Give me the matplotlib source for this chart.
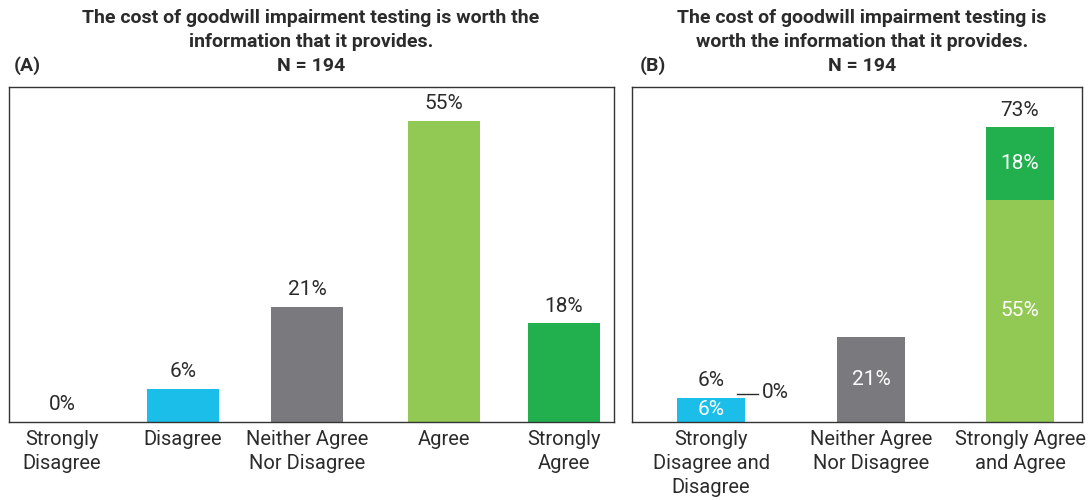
import numpy as np
import matplotlib.pyplot as plt

plt.rcParams['font.family'] = ['Roboto', 'DejaVu Sans']

# Panel A data
cats_a = ['Strongly\nDisagree', 'Disagree', 'Neither Agree\nNor Disagree', 'Agree', 'Strongly\nAgree']
vals_a = [0, 6, 21, 55, 18]

# Panel B data
cats_b = ['Strongly\nDisagree and\nDisagree', 'Neither Agree\nNor Disagree', 'Strongly Agree\nand Agree']
lower_b = [6, 21, 55]    # Disagree / Neither / Agree
upper_b = [0, 0, 18]     # Strongly Disagree / - / Strongly Agree
totals_b = [6, 21, 73]
show_total_b = [True, False, True]

blue = '#1bbde9'
gray = '#7a797e'
lgreen = '#92c954'
dgreen = '#22b04f'
txt = '#2b2b2b'

W, H = 1092, 500
fig = plt.figure(figsize=(W / 100, H / 100), dpi=100)

def px_axes(x0, y0, x1, y1):
    return fig.add_axes([x0 / W, 1 - y1 / H, (x1 - x0) / W, (y1 - y0) / H])

fs_tick = 14.5
fs_val = 15
fs_title = 14

# ---- Panel A ----
ax = px_axes(9, 87, 614, 422)
# bar centres (slightly uneven spacing, as in the original layout)
x = np.array([62, 183, 307, 444, 564]) / 125.5
ax.bar(x, vals_a, width=0.575, color=[blue, blue, gray, lgreen, dgreen])
for xi, v in zip(x, vals_a):
    ax.text(xi, v + 1.4, f'{v}%', ha='center', va='bottom', fontsize=fs_val, color=txt)
ax.set_xlim(9 / 125.5, 614 / 125.5)
ax.set_ylim(0, 61.2)
ax.set_xticks(x)
ax.set_xticklabels(cats_a, fontsize=fs_tick, color=txt, linespacing=1.32)
ax.set_yticks([])
ax.tick_params(axis='x', length=0, pad=6)
for s in ax.spines.values():
    s.set_color('#333333')
    s.set_linewidth(1.0)

fig.text(311 / W, 1 - 30 / H, 'The cost of goodwill impairment testing is worth the\ninformation that it provides.',
         ha='center', va='center', fontsize=fs_title, fontweight='bold', color=txt, linespacing=1.4)
fig.text(311 / W, 1 - 66 / H, 'N = 194', ha='center', va='center', fontsize=fs_title, fontweight='bold', color=txt)
fig.text(14 / W, 1 - 66 / H, '(A)', ha='left', va='center', fontsize=fs_title, fontweight='bold', color=txt)

# ---- Panel B ----
bx = px_axes(632, 87, 1082, 422)
xb = np.array([711, 871, 1020]) / 155.0
bw = 0.44
bx.bar(xb, lower_b, width=bw, color=[blue, gray, lgreen])
bx.bar(xb, upper_b, width=bw, bottom=lower_b, color=[blue, gray, dgreen])
for xi, lo, up, tot, show in zip(xb, lower_b, upper_b, totals_b, show_total_b):
    bx.text(xi, lo / 2, f'{lo}%', ha='center', va='center', fontsize=fs_val, color='white')
    if up > 0:
        bx.text(xi, lo + up / 2, f'{up}%', ha='center', va='center', fontsize=fs_val, color='white')
    if show:
        bx.text(xi, tot + 1.8, f'{tot}%', ha='center', va='bottom', fontsize=fs_val, color=txt)
# zero segment (Strongly Disagree) callout
yc = lower_b[0] + upper_b[0] + 1.0
bx.plot([xb[0] + bw / 2 - 0.05, xb[0] + bw / 2 + 0.08], [yc, yc], color=txt, lw=1)
bx.text(xb[0] + bw / 2 + 0.11, yc + 0.2, f'{upper_b[0]}%', ha='left', va='center', fontsize=fs_val, color=txt)
bx.set_xlim(632 / 155.0, 1082 / 155.0)
bx.set_ylim(0, 82.9)
bx.set_xticks(xb)
bx.set_xticklabels(cats_b, fontsize=fs_tick, color=txt, linespacing=1.32)
bx.set_yticks([])
bx.tick_params(axis='x', length=0, pad=6)
for s in bx.spines.values():
    s.set_color('#333333')
    s.set_linewidth(1.0)

fig.text(862 / W, 1 - 30 / H, 'The cost of goodwill impairment testing is\nworth the information that it provides.',
         ha='center', va='center', fontsize=fs_title, fontweight='bold', color=txt, linespacing=1.4)
fig.text(862 / W, 1 - 66 / H, 'N = 194', ha='center', va='center', fontsize=fs_title, fontweight='bold', color=txt)
fig.text(640 / W, 1 - 66 / H, '(B)', ha='left', va='center', fontsize=fs_title, fontweight='bold', color=txt)

fig.savefig('out.png', dpi=100)
